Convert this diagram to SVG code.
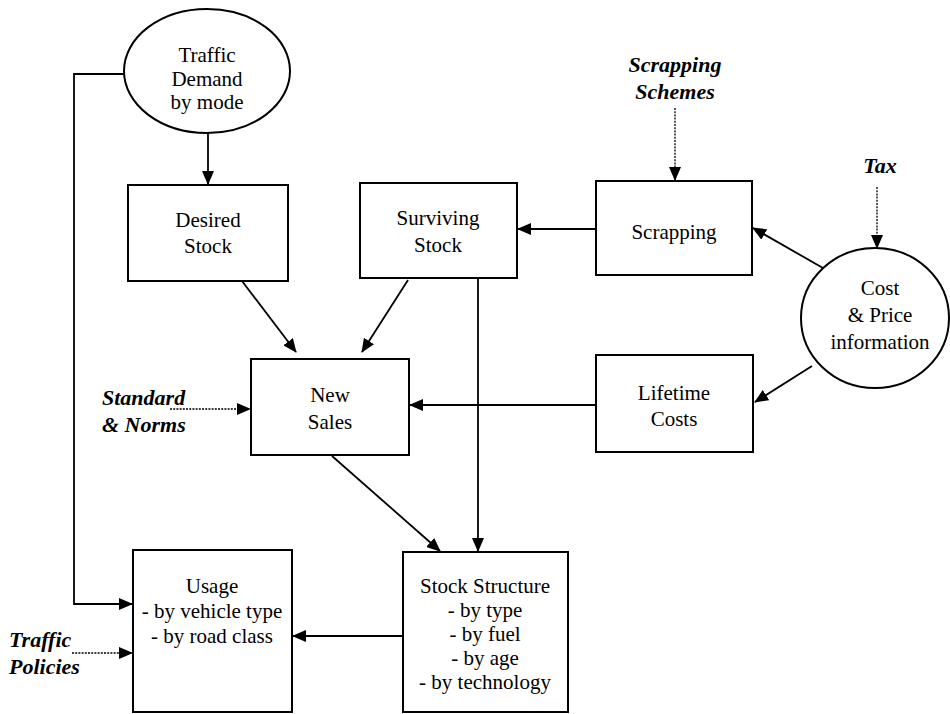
<svg xmlns="http://www.w3.org/2000/svg" width="950" height="714" viewBox="0 0 950 714">
<style>
.box{fill:#fff;stroke:#000;stroke-width:2}
.t{font-family:"Liberation Serif","Times New Roman",serif;font-size:21px;text-anchor:middle;fill:#000}
.ext{font-family:"Liberation Serif","Times New Roman",serif;font-size:22px;font-weight:bold;font-style:italic;fill:#000}
.ln{fill:none;stroke:#000;stroke-width:1.8}
.dot{fill:none;stroke:#000;stroke-width:1.3;stroke-dasharray:2 1.2}
</style>
<defs>
<marker id="ah" markerUnits="userSpaceOnUse" markerWidth="14" markerHeight="12" refX="13" refY="6" orient="auto">
<path d="M0,0 L14,6 L0,12 Z" fill="#000"/>
</marker>
</defs>
<g id="connectors">
<line class="ln" x1="208" y1="134" x2="208" y2="184" marker-end="url(#ah)"/>
<polyline class="ln" points="124,74 74,74 74,604 132,604" marker-end="url(#ah)"/>
<line class="ln" x1="242" y1="281" x2="296" y2="352" marker-end="url(#ah)"/>
<line class="ln" x1="408" y1="280" x2="362" y2="352" marker-end="url(#ah)"/>
<line class="ln" x1="478" y1="279" x2="478" y2="551" marker-end="url(#ah)"/>
<line class="ln" x1="596" y1="229" x2="518" y2="229" marker-end="url(#ah)"/>
<line class="ln" x1="596" y1="405" x2="410" y2="405" marker-end="url(#ah)"/>
<line class="ln" x1="823" y1="268" x2="753" y2="228" marker-end="url(#ah)"/>
<line class="ln" x1="812" y1="366" x2="755" y2="402" marker-end="url(#ah)"/>
<line class="ln" x1="332" y1="456" x2="440" y2="551" marker-end="url(#ah)"/>
<line class="ln" x1="403" y1="636" x2="293" y2="636" marker-end="url(#ah)"/>
<line class="dot" x1="675" y1="108" x2="675" y2="180" marker-end="url(#ah)"/>
<line class="dot" x1="877" y1="187" x2="877" y2="248" marker-end="url(#ah)"/>
<line class="dot" x1="170" y1="409" x2="250" y2="409" marker-end="url(#ah)"/>
<line class="dot" x1="72" y1="653" x2="132" y2="653" marker-end="url(#ah)"/>
</g>
<g id="traffic-demand">
<ellipse class="box" cx="207" cy="71" rx="83" ry="62"/>
<text class="t" x="207" y="62">Traffic</text>
<text class="t" x="207" y="86">Demand</text>
<text class="t" x="207" y="109">by  mode</text>
</g>
<g id="desired-stock">
<rect class="box" x="128" y="185" width="160" height="96"/>
<text class="t" x="208" y="227">Desired</text>
<text class="t" x="208" y="253">Stock</text>
</g>
<g id="surviving-stock">
<rect class="box" x="360" y="183" width="157" height="95"/>
<text class="t" x="438" y="225">Surviving</text>
<text class="t" x="438" y="252">Stock</text>
</g>
<g id="scrapping">
<rect class="box" x="596" y="181" width="156" height="94"/>
<text class="t" x="674" y="239">Scrapping</text>
</g>
<g id="scrapping-schemes">
<text class="ext" x="675" y="72" text-anchor="middle">Scrapping</text>
<text class="ext" x="675" y="99" text-anchor="middle">Schemes</text>
</g>
<g id="tax">
<text class="ext" x="880" y="173" text-anchor="middle">Tax</text>
</g>
<g id="cost-price">
<ellipse class="box" cx="875" cy="318" rx="74" ry="70"/>
<text class="t" x="880" y="295">Cost</text>
<text class="t" x="880" y="322">&amp; Price</text>
<text class="t" x="880" y="349">information</text>
</g>
<g id="new-sales">
<rect class="box" x="251" y="359" width="158" height="96"/>
<text class="t" x="330" y="402">New</text>
<text class="t" x="330" y="429">Sales</text>
</g>
<g id="standard-norms">
<text class="ext" x="102" y="405">Standard</text>
<text class="ext" x="102" y="432">&amp; Norms</text>
</g>
<g id="lifetime-costs">
<rect class="box" x="596" y="355" width="157" height="97"/>
<text class="t" x="674" y="400">Lifetime</text>
<text class="t" x="674" y="426">Costs</text>
</g>
<g id="usage">
<rect class="box" x="133" y="550" width="159" height="162"/>
<text class="t" x="212" y="593">Usage</text>
<text class="t" x="212" y="618">- by vehicle type</text>
<text class="t" x="212" y="643">- by road class</text>
</g>
<g id="traffic-policies">
<text class="ext" x="9" y="647">Traffic</text>
<text class="ext" x="9" y="674">Policies</text>
</g>
<g id="stock-structure">
<rect class="box" x="403" y="552" width="165" height="160"/>
<text class="t" x="485" y="593">Stock Structure</text>
<text class="t" x="485" y="617">- by type</text>
<text class="t" x="485" y="641">- by fuel</text>
<text class="t" x="485" y="665">- by age</text>
<text class="t" x="485" y="689">- by technology</text>
</g>
</svg>
